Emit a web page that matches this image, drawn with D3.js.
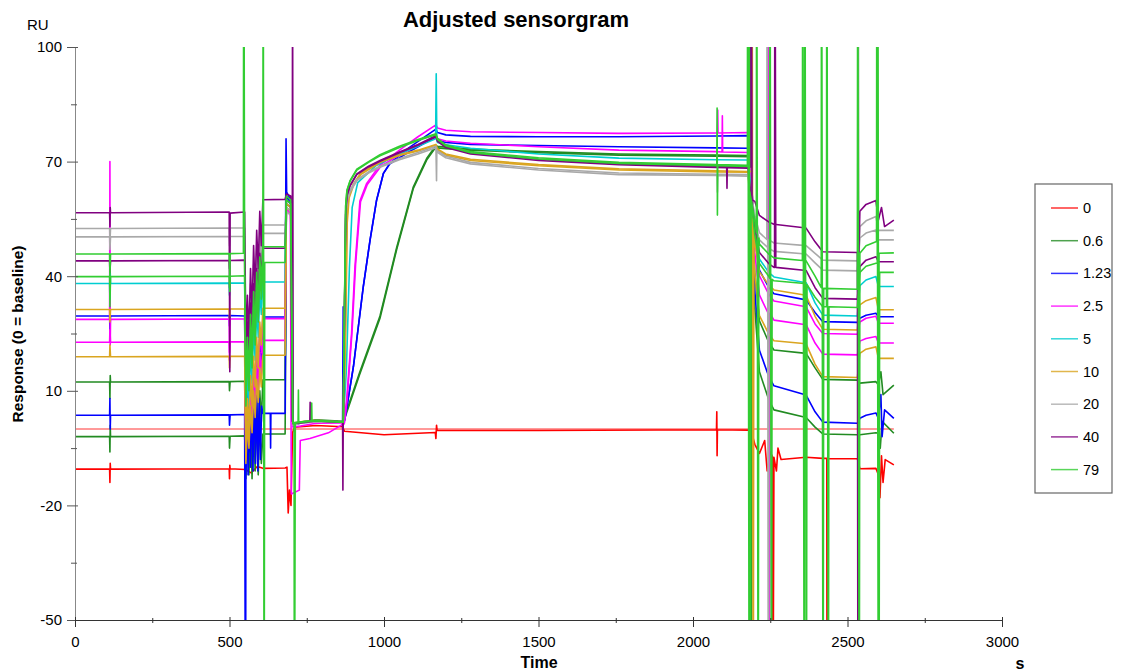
<!DOCTYPE html>
<html>
<head>
<meta charset="utf-8">
<script src="https://cdn.jsdelivr.net/npm/d3@7"></script>
<style>
  body { margin: 0; background: #fff; font-family: Arial, "Liberation Sans", sans-serif; }
</style>
</head>
<body>
<div id="graph"></div>
<script>
// legend: concentrations and their colours
var concLabels = ["0", "0.6", "1.23", "2.5", "5", "10", "20", "40", "79"]
var concColors = ["#ff0000", "#228b22", "#0000ff", "#ff00ff", "#00ced1", "#daa520", "#a9a9a9", "#800080", "#32cd32"]

var xTicks = [0, 500, 1000, 1500, 2000, 2500, 3000]
var xMinor = [250, 750, 1250, 1750, 2250, 2750]
var yTicks = [-50, -20, 10, 40, 70, 100]
var yMinor = [-35, -5, 25, 55, 85]

// zero baseline
var zeroLine = [[0, 0], [2650, 0]]

// curves, [time s, RU]
var s0 = [[0,-10.5],[112,-10.5],[113,-14],[114,-9],[115,-10.5],[499,-10.4],[500,-13],[501,-9.5],[502,-10.4],[552,-10.6],[570,-11.5],[590,-9.8],[608,-10.3],[680,-10.2],[686,-10],[690,-22],[694,-16],[699,-20],[704,-1],[710,0.5],[780,0.9],[866,0.6],[872,-0.6],[1000,-1.5],[1166,-0.9],[1168,-2.5],[1170,1],[1172,-0.4],[1500,-0.4],[2076,-0.2],[2077,4.5],[2078,-7],[2079,-0.2],[2178,-0.3],[2190,-1],[2200,-4],[2215,-6.4],[2232,-3],[2240,-11],[2250,-6],[2257,-7.2],[2258,-100],[2262,-7.4],[2270,-11],[2275,-5],[2285,-8],[2366,-7.4],[2420,-7.7],[2433,-7.7],[2434,-100],[2437,-7.8],[2532,-7.8],[2540,-10.4],[2592,-10.3],[2600,-12],[2605,-18],[2610,-7],[2615,-14],[2622,-8],[2650,-9.4]]

var s06a = [[0,12.3],[112,12.3],[113,8],[114,14],[115,12.3],[499,12.4],[500,10],[502,12.4],[549,12.5],[553,-12],[558,2],[563,-10],[568,4],[573,-8],[578,6],[583,-5],[588,8],[593,-3],[598,10],[603,2],[608,12.9],[680,12.9],[684,58],[698,57],[705,1],[730,1.6],[780,2.2],[868,1.8],[878,4],[920,14],[987,29],[1041,47],[1095,63],[1138,70.4],[1168,73.8],[1173,73.6],[1200,73.4],[1280,73.0],[1500,72.3],[1760,71.7],[2075,71.4],[2178,71.3],[2183,71.3],[2184,160],[2189,-100],[2191,60],[2200,40.9],[2215,28.3],[2245,22.7],[2262,20.7],[2366,19.8],[2395,16],[2420,13.0],[2532,12.8],[2540,12.0],[2592,12.4],[2600,11.5],[2608,15],[2615,9],[2650,11.5]]

var s06b = [[0,-2],[112,-2],[113,-6],[114,1],[115,-2],[499,-1.9],[500,-5],[502,-1.9],[549,-1.8],[553,-13],[558,5],[563,-12],[568,6],[573,-13],[578,4],[583,-11],[588,5],[593,-12],[598,3],[603,-9],[608,-1.3],[680,-1.3],[684,59],[698,58],[705,1.2],[730,1.8],[780,2.4],[868,2.0],[878,4.5],[920,14.5],[987,29.6],[1041,47.5],[1095,63.4],[1138,70.8],[1168,74.2],[1173,74.0],[1200,73.8],[1280,73.3],[1500,72.6],[1760,72.0],[2075,71.7],[2178,71.6],[2200,31.6],[2215,15.0],[2245,7.7],[2262,5.0],[2366,3.0],[2395,0.5],[2420,-1.3],[2532,-1.5],[2540,-1.5],[2592,-1.0],[2600,-1.1],[2606,-5],[2612,2],[2650,-1.1]]

var s123a = [[0,29.6],[112,29.6],[113,26],[115,29.6],[499,29.7],[500,27],[502,29.7],[549,29.6],[553,-10],[558,6],[563,-6],[568,10],[573,0],[578,15],[583,6],[588,20],[593,12],[598,25],[603,18],[608,29.3],[680,29.3],[683,76],[685,62],[698,60],[705,1.5],[730,1.8],[780,2.2],[868,1.8],[873,2.4],[901,16.3],[933,37.3],[955,49.5],[976,59.9],[998,66.9],[1019,69.6],[1080,73.6],[1168,78.5],[1173,77.6],[1200,77.0],[1280,76.6],[1500,76.5],[1760,76.5],[2075,76.7],[2178,76.8],[2200,52.0],[2215,41.6],[2245,37.1],[2262,35.4],[2366,33.8],[2395,30.5],[2420,28.1],[2532,27.9],[2540,29],[2560,29.8],[2592,30.3],[2600,29.4],[2650,29.4]]

var s123b = [[0,3.6],[112,3.6],[113,8],[114,0],[115,3.6],[499,3.7],[500,1],[502,3.7],[549,3.8],[552,-100],[553,-12],[556,12],[560,-12],[564,14],[568,-10],[572,10],[576,-11],[580,12],[584,-9],[588,10],[592,-11],[596,8],[600,-8],[604,6],[608,4.1],[632,4.1],[633,-5],[634,4.1],[680,4.1],[684,61],[698,59],[705,1.0],[730,1.6],[780,2.0],[866,1.8],[868,32],[870,1.8],[873,2.4],[901,16.3],[933,37.3],[955,49.5],[976,59.9],[998,66.9],[1019,69.4],[1080,72.5],[1168,76.5],[1173,75.6],[1200,75.0],[1280,74.5],[1500,74.2],[1760,73.9],[2075,73.6],[2178,73.5],[2200,36.2],[2215,20.6],[2245,13.8],[2262,11.3],[2366,8.9],[2395,4.5],[2420,1.8],[2532,1.5],[2540,2.8],[2560,3.6],[2592,4.2],[2600,2.8],[2608,9],[2612,-2],[2620,5],[2650,2.8]]

var s25a = [[0,28.7],[112,28.7],[113,70],[114,22],[115,28.7],[499,28.8],[500,18],[502,28.8],[549,28.8],[553,-6],[558,6],[563,-2],[568,12],[573,4],[578,17],[583,9],[588,22],[593,14],[598,26],[603,20],[608,28.9],[680,28.9],[684,58],[697,56],[700,-17],[726,-16],[729,-3],[760,-2.5],[820,-1],[866,1.2],[870,1.2],[879,7.6],[895,25],[906,42.5],[922,59.7],[944,64.3],[987,69.1],[1050,73],[1110,76.5],[1168,79.6],[1173,78.8],[1200,78.2],[1280,77.8],[1500,77.6],[1760,77.4],[2075,77.5],[2079,77.5],[2080,83.5],[2081,77.5],[2178,77.6],[2200,51.1],[2215,40.1],[2245,35.3],[2262,33.5],[2366,32.0],[2395,27.5],[2420,25],[2532,24.8],[2540,28],[2560,29],[2592,29.5],[2600,27.7],[2650,27.7]]

var s25b = [[0,22.7],[112,22.7],[113,26],[115,22.7],[499,22.8],[500,20],[502,22.8],[549,22.8],[553,-8],[558,3],[563,-4],[568,8],[573,1],[578,12],[583,5],[588,16],[593,9],[598,20],[603,14],[608,23.2],[680,23.2],[684,57],[698,56],[705,0.5],[730,0.8],[780,1.5],[868,1.6],[872,1.6],[881,8],[897,26],[908,43],[924,59.5],[946,64],[990,68.8],[1050,71.8],[1110,74.3],[1168,76.8],[1173,76.0],[1200,75.4],[1280,74.8],[1500,73.9],[1760,73.0],[2075,72.6],[2094,72.5],[2095,82],[2096,72.5],[2178,72.4],[2200,46.1],[2215,35.1],[2242,30.5],[2243,160],[2247,-100],[2249,30.3],[2262,28.5],[2366,27.3],[2395,22.5],[2420,19.6],[2532,19.4],[2540,23],[2560,23.7],[2592,24.2],[2600,22.5],[2650,22.5]]

var s5 = [[0,38.1],[112,38.1],[113,34],[114,41],[115,38.1],[499,38.2],[500,35],[502,38.2],[549,38.2],[553,2],[558,15],[563,6],[568,21],[573,12],[578,27],[583,18],[588,32],[593,24],[598,36],[603,30],[608,38.5],[680,38.5],[684,60],[698,59],[705,1.2],[730,1.8],[780,2.2],[868,1.8],[878,15],[888,42],[897,58],[915,64.5],[975,69],[1050,72],[1110,74],[1167,76],[1169,93],[1171,75.5],[1173,75.0],[1200,74.4],[1280,73.5],[1500,72.0],[1760,70.9],[2075,70.5],[2178,70.4],[2200,52.4],[2215,44.5],[2245,41.0],[2262,39.8],[2366,38.3],[2395,33],[2420,29.8],[2532,29.6],[2540,37.5],[2560,39],[2592,39.9],[2600,37.3],[2650,37.3]]

var s10a = [[0,31.3],[112,31.3],[113,28],[115,31.3],[499,31.4],[500,29],[502,31.4],[549,31.4],[553,-4],[558,8],[563,0],[568,14],[573,6],[578,19],[583,11],[588,24],[593,16],[598,28],[603,22],[608,31.6],[680,31.6],[684,59],[698,58],[705,1.5],[730,1.9],[780,2.3],[868,1.8],[874,20],[880,55],[886,61],[900,64],[925,67],[987,70],[1050,71.8],[1110,73],[1168,74.5],[1173,73.3],[1200,72.0],[1280,70.6],[1500,69.2],[1760,68.1],[2075,67.6],[2178,67.4],[2190,67.4],[2191,160],[2195,-100],[2197,55],[2200,48.8],[2215,41.2],[2245,37.7],[2262,36.4],[2366,35.0],[2395,29.5],[2420,26.1],[2532,25.9],[2540,32.5],[2560,33.6],[2592,34.4],[2600,31.2],[2650,31.2]]

var s10b = [[0,18.9],[112,18.9],[113,22],[115,18.9],[499,19.0],[500,16],[502,19],[549,19],[553,-9],[558,2],[563,-5],[568,6],[573,-1],[578,10],[583,3],[588,13],[593,7],[598,16],[603,11],[608,19.3],[680,19.3],[684,58],[698,57],[705,1.3],[730,1.7],[780,2.1],[868,1.8],[875,20],[881,54],[887,60.5],[901,63.7],[926,66.7],[988,69.8],[1050,71.6],[1110,72.8],[1168,74.3],[1173,73.1],[1200,71.7],[1280,70.3],[1500,68.9],[1760,67.8],[2075,67.3],[2178,67.2],[2200,40.7],[2215,29.7],[2245,24.9],[2262,23.1],[2366,22.3],[2395,17],[2420,13.7],[2532,13.5],[2540,19.8],[2560,20.9],[2592,21.5],[2600,18.5],[2650,18.5]]

var s20a = [[0,52.5],[112,52.5],[113,49],[115,52.5],[499,52.6],[500,50],[502,52.6],[549,52.6],[553,20],[558,32],[563,22],[568,38],[573,27],[578,43],[583,32],[588,47],[593,38],[598,51],[603,44],[608,53.4],[680,53.4],[684,58],[698,57],[705,1.2],[730,1.6],[780,2.0],[868,1.8],[872,30],[876,56],[880,60],[890,62.5],[912,65.3],[950,67.3],[987,68.8],[1050,70.8],[1110,72.4],[1168,74.0],[1170,65],[1171,73],[1173,72.8],[1200,71.4],[1280,69.8],[1500,68.2],[1760,67.0],[2075,66.7],[2178,66.6],[2200,55.9],[2215,51.4],[2239,49.6],[2240,160],[2244,-100],[2246,49.5],[2262,48.7],[2366,48.0],[2395,46],[2420,44.2],[2532,44.0],[2533,44],[2534,160],[2537,44],[2540,53],[2560,54.5],[2592,55.6],[2600,52],[2650,52]]

var s20b = [[0,50.3],[112,50.3],[113,47],[115,50.3],[499,50.4],[500,48],[502,50.4],[549,50.4],[553,18],[558,30],[563,20],[568,36],[573,25],[578,41],[583,30],[588,45],[593,36],[598,49],[603,42],[608,51.2],[680,51.2],[684,57],[698,56],[705,1.0],[730,1.5],[780,1.9],[868,1.8],[872,29],[876,55],[880,59.5],[890,62],[912,65],[950,67],[987,68.5],[1050,70.5],[1110,72],[1168,73.6],[1173,72.4],[1200,71.0],[1280,69.4],[1500,67.8],[1760,66.6],[2078,66.4],[2079,62],[2080,66.4],[2178,66.2],[2200,54.4],[2215,49.5],[2245,47.3],[2262,46.5],[2366,45.8],[2395,43.5],[2420,41.6],[2532,41.4],[2540,50],[2560,51.3],[2592,52.1],[2600,49.5],[2650,49.5]]

var s40a = [[0,56.6],[112,56.6],[113,53],[114,58],[115,56.6],[499,56.8],[501,15],[502,56.5],[549,56.8],[553,22],[558,35],[563,24],[568,42],[573,30],[578,48],[583,36],[588,52],[593,42],[598,57],[603,48],[608,60],[680,60.1],[684,61.5],[698,61],[703,2],[704,130],[706,1.5],[730,1.6],[760,2.0],[761,7],[762,2.0],[780,2.1],[868,1.8],[872,30],[876,57],[880,61.3],[890,63.8],[912,66.8],[950,68.8],[987,70.3],[1050,72.5],[1110,74.5],[1168,76.8],[1173,75.6],[1200,74.0],[1280,72.2],[1500,70.6],[1760,69.4],[2075,68.8],[2109,68.7],[2110,63],[2111,68.7],[2178,68.6],[2187,68.6],[2188,160],[2191,60],[2200,59.6],[2215,55.9],[2245,54.2],[2262,53.6],[2366,52.6],[2395,49],[2420,46.4],[2532,46.2],[2534,-100],[2537,46.2],[2540,57.0],[2560,58.8],[2592,59.8],[2600,54.7],[2610,58],[2620,53],[2650,54.7]]

var s40b = [[0,44],[112,44],[113,41],[115,44],[499,44.1],[500,42],[502,44.1],[549,44.2],[553,14],[558,28],[563,16],[568,33],[573,22],[578,38],[583,28],[588,42],[593,34],[598,46],[603,40],[608,47.3],[680,47.3],[684,60],[698,59],[705,1.4],[730,1.7],[780,2.1],[866,1.8],[867,-16],[868,1.8],[872,29],[876,56],[880,61],[890,63.6],[912,66.6],[950,68.6],[987,70.1],[1050,72.3],[1110,74.3],[1168,76.5],[1173,75.3],[1200,73.7],[1280,72.0],[1500,70.3],[1760,69.2],[2075,68.5],[2178,68.3],[2200,52.7],[2215,46.2],[2245,43.3],[2262,42.3],[2264,42.3],[2265,160],[2268,42.3],[2366,41.5],[2395,37],[2420,34.2],[2532,34.0],[2540,42.5],[2560,44.2],[2592,45.1],[2600,43.8],[2650,43.8]]

var s79a = [[0,45.8],[112,45.8],[113,40],[115,45.8],[499,45.9],[501,36],[502,45.9],[545,46],[546,160],[549,40],[553,10],[558,24],[563,14],[568,30],[573,20],[578,36],[583,26],[588,41],[593,32],[598,45],[603,38],[608,47.7],[680,47.7],[684,61],[698,60],[705,1.6],[722,1.8],[723,10.2],[724,1.8],[780,2.2],[868,1.8],[872,31],[876,58.5],[880,62.5],[890,65],[912,68],[950,70],[987,71.8],[1050,74],[1110,75.8],[1168,77.3],[1173,76.1],[1200,74.4],[1280,72.6],[1500,71.0],[1760,69.8],[2075,69.2],[2077,69.2],[2078,84],[2079,56],[2080,69.2],[2176,69.0],[2177,160],[2182,-100],[2184,62],[2200,54.5],[2205,51.5],[2206,160],[2211,-100],[2213,50],[2215,48.4],[2245,45.8],[2262,44.8],[2354,44.1],[2355,160],[2360,-100],[2362,44],[2366,44.0],[2395,40],[2415,37],[2416,160],[2421,-100],[2423,36.8],[2532,36.6],[2533,160],[2538,-100],[2540,46],[2560,48],[2592,49],[2594,49],[2595,160],[2600,-100],[2602,46],[2650,46.1]]

var s79b = [[0,39.9],[112,39.9],[113,32],[115,39.9],[499,40],[500,37],[502,40],[549,40.1],[553,6],[558,20],[563,10],[568,26],[573,16],[578,32],[583,22],[588,37],[593,28],[598,41],[603,34],[608,43.5],[609,160],[612,-100],[614,43.6],[680,43.6],[684,60],[698,59],[705,1.5],[709,1.5],[710,-100],[713,1.5],[765,2.1],[766,6.8],[767,2.1],[780,2.2],[868,1.8],[872,31],[876,58.3],[880,62.3],[890,64.8],[912,67.8],[950,69.8],[987,71.5],[1050,73.7],[1110,75.5],[1168,77.0],[1173,75.8],[1200,74.1],[1280,72.3],[1500,70.7],[1760,69.5],[2075,68.9],[2180,68.7],[2181,160],[2186,-100],[2188,60],[2200,50.8],[2215,43.3],[2245,40.0],[2248,39.5],[2249,160],[2254,-100],[2256,39.2],[2262,38.8],[2361,38.1],[2362,160],[2367,-100],[2369,37.8],[2395,34.5],[2420,32.0],[2432,32],[2433,160],[2438,-100],[2440,32],[2532,31.8],[2540,41],[2560,42.6],[2592,43.4],[2597,43.4],[2598,160],[2602,-100],[2604,41],[2650,41.0]]

// drawing order = legend order, so the 79 curves end up on top
var curves = [
  {conc: "0",    pts: s0},
  {conc: "0.6",  pts: s06a}, {conc: "0.6",  pts: s06b},
  {conc: "1.23", pts: s123a}, {conc: "1.23", pts: s123b},
  {conc: "2.5",  pts: s25a}, {conc: "2.5",  pts: s25b},
  {conc: "5",    pts: s5},
  {conc: "10",   pts: s10a}, {conc: "10",   pts: s10b},
  {conc: "20",   pts: s20a}, {conc: "20",   pts: s20b},
  {conc: "40",   pts: s40a}, {conc: "40",   pts: s40b},
  {conc: "79",   pts: s79a}, {conc: "79",   pts: s79b}
]

var width = 1122, height = 672
var margin = {top: 47, left: 75}
var chartWidth = 927, chartHeight = 573

var color = d3.scaleOrdinal().domain(concLabels).range(concColors)

var x = d3.scaleLinear().domain([0, 3000]).range([0, chartWidth])
var y = d3.scaleLinear().domain([-50, 100]).range([chartHeight, 0])

// plain numbers, ascii minus
var plain = function(d) { return String(d) }

var svg = d3.select("#graph").append("svg")
            .attr("width", width).attr("height", height)
            .style("font-family", "Arial, 'Liberation Sans', sans-serif")

var chartLayer = svg.append("g")
                    .attr("transform", "translate(" + [margin.left, margin.top] + ")")

svg.append("defs").append("clipPath").attr("id", "plotClip")
   .append("rect").attr("x", 0).attr("y", 0).attr("width", chartWidth).attr("height", chartHeight)

var line = d3.line()
             .x(function(d) { return x(d[0]) })
             .y(function(d) { return y(d[1]) })

var plot = chartLayer.append("g").attr("clip-path", "url(#plotClip)")

plot.append("path")
    .attr("d", line(zeroLine))
    .attr("fill", "none")
    .attr("stroke", "#ff0000")
    .attr("stroke-width", 0.8)

plot.selectAll(".curve")
    .data(curves)
    .enter().append("path")
    .classed("curve", true)
    .attr("d", function(d) { return line(d.pts) })
    .attr("fill", "none")
    .attr("stroke", function(d) { return color(d.conc) })
    .attr("stroke-width", 1.6)
    .attr("stroke-linejoin", "round")

// y axis
var yAxis = chartLayer.append("g")
    .call(d3.axisLeft(y).tickValues(yTicks).tickFormat(plain).tickSize(8).tickSizeOuter(0).tickPadding(5))
yAxis.select(".domain").attr("stroke", "#888")
yAxis.selectAll(".tick line").attr("x1", 3).attr("stroke", "#555")
yAxis.selectAll(".tick text").attr("font-size", "15px").attr("fill", "#000").attr("font-family", null)

var yMinorAxis = chartLayer.append("g")
    .call(d3.axisLeft(y).tickValues(yMinor).tickSize(4).tickSizeOuter(0).tickFormat(""))
yMinorAxis.select(".domain").remove()
yMinorAxis.selectAll(".tick line").attr("x1", 2).attr("stroke", "#555")

// x axis
var xAxis = chartLayer.append("g")
    .attr("transform", "translate(0," + chartHeight + ")")
    .call(d3.axisBottom(x).tickValues(xTicks).tickFormat(plain).tickSize(7).tickSizeOuter(0))
xAxis.select(".domain").attr("stroke", "#333")
xAxis.selectAll(".tick line").attr("y1", -3).attr("stroke", "#333")
xAxis.selectAll(".tick text").attr("font-size", "15px").attr("fill", "#000")
     .attr("font-family", null).attr("y", 27).attr("dy", 0)

var xMinorAxis = chartLayer.append("g")
    .attr("transform", "translate(0," + chartHeight + ")")
    .call(d3.axisBottom(x).tickValues(xMinor).tickSize(3).tickSizeOuter(0).tickFormat(""))
xMinorAxis.select(".domain").remove()
xMinorAxis.selectAll(".tick line").attr("y1", -2).attr("stroke", "#333")

// texts
svg.append("text").attr("x", 516).attr("y", 27).attr("text-anchor", "middle")
   .attr("font-size", "22px").attr("font-weight", "bold").text("Adjusted sensorgram")
svg.append("text").attr("x", 27).attr("y", 30).attr("font-size", "15px").text("RU")
svg.append("text").attr("x", 539).attr("y", 668).attr("text-anchor", "middle")
   .attr("font-size", "16px").attr("font-weight", "bold").text("Time")
svg.append("text").attr("x", 1020).attr("y", 669).attr("text-anchor", "middle")
   .attr("font-size", "16px").attr("font-weight", "bold").text("s")
svg.append("text")
   .attr("transform", "translate(23,334) rotate(-90)")
   .attr("text-anchor", "middle")
   .attr("font-size", "15.5px").attr("font-weight", "bold")
   .text("Response (0 = baseline)")

// legend
var legend = svg.append("g").attr("transform", "translate(1035,184)")
legend.append("rect").attr("x", 0).attr("y", 0).attr("width", 77).attr("height", 309)
      .attr("fill", "#fff").attr("stroke", "#666").attr("stroke-width", 1.2)

var item = legend.selectAll(".item")
                 .data(concLabels)
                 .enter().append("g")
                 .classed("item", true)
                 .attr("transform", function(d, i) { return "translate(0," + (24 + i * 32.7) + ")" })

item.append("line").attr("x1", 16).attr("x2", 43).attr("y1", 0).attr("y2", 0)
    .attr("stroke", function(d) { return color(d) }).attr("stroke-width", 1.5).attr("opacity", 0.8)
item.append("text").attr("x", 48).attr("y", 5).attr("font-size", "14.5px").text(function(d) { return d })
</script>
</body>
</html>
